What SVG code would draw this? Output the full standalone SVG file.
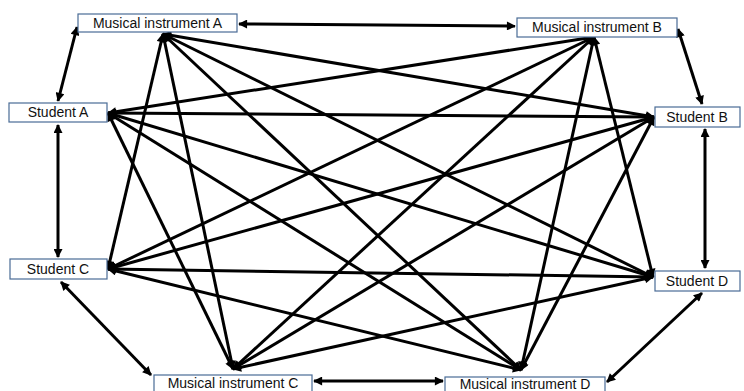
<svg xmlns="http://www.w3.org/2000/svg" width="744" height="391" viewBox="0 0 744 391">
<style>
.box{fill:#fff;stroke:#4a6c96;stroke-width:1.2}
.lbl{font-family:"Liberation Sans",Arial,sans-serif;font-size:14px;fill:#111;text-anchor:middle}
.e{stroke:#000;stroke-width:3;fill:none;marker-start:url(#ah);marker-end:url(#ah)}
</style>
<defs>
<marker id="ah" viewBox="0 0 10 10" refX="9" refY="5" markerWidth="11" markerHeight="9" markerUnits="userSpaceOnUse" orient="auto-start-reverse">
<path d="M0,0 L10,5 L0,10 z" fill="#000"/>
</marker>
</defs>
<rect width="744" height="391" fill="#fff"/>
<g id="connectors">
<line class="e" x1="239" y1="24" x2="515" y2="26"/>
<line class="e" x1="77" y1="27" x2="58" y2="101"/>
<line class="e" x1="58" y1="125" x2="58" y2="257"/>
<line class="e" x1="61" y1="282" x2="151" y2="375"/>
<line class="e" x1="314" y1="381" x2="443" y2="381"/>
<line class="e" x1="607" y1="382" x2="702" y2="293"/>
<line class="e" x1="705" y1="129" x2="705" y2="268"/>
<line class="e" x1="678" y1="29" x2="702" y2="104"/>
<line class="e" x1="163" y1="34" x2="654" y2="117"/>
<line class="e" x1="163" y1="34" x2="108" y2="269"/>
<line class="e" x1="163" y1="34" x2="653" y2="277"/>
<line class="e" x1="163" y1="34" x2="233" y2="369"/>
<line class="e" x1="163" y1="34" x2="521" y2="370"/>
<line class="e" x1="594" y1="37" x2="108" y2="113"/>
<line class="e" x1="594" y1="37" x2="108" y2="269"/>
<line class="e" x1="594" y1="37" x2="653" y2="277"/>
<line class="e" x1="594" y1="37" x2="233" y2="369"/>
<line class="e" x1="594" y1="37" x2="521" y2="370"/>
<line class="e" x1="108" y1="113" x2="654" y2="117"/>
<line class="e" x1="108" y1="113" x2="653" y2="277"/>
<line class="e" x1="108" y1="113" x2="233" y2="369"/>
<line class="e" x1="108" y1="113" x2="521" y2="370"/>
<line class="e" x1="654" y1="117" x2="108" y2="269"/>
<line class="e" x1="654" y1="117" x2="233" y2="369"/>
<line class="e" x1="654" y1="117" x2="521" y2="370"/>
<line class="e" x1="108" y1="269" x2="653" y2="277"/>
<line class="e" x1="108" y1="269" x2="521" y2="370"/>
<line class="e" x1="653" y1="277" x2="233" y2="369"/>
</g>
<g id="mia"><rect class="box" x="78" y="14" width="159" height="18"/><text class="lbl" x="157.5" y="28">Musical instrument A</text></g>
<g id="mib"><rect class="box" x="517" y="18" width="160" height="19"/><text class="lbl" x="597" y="32">Musical instrument B</text></g>
<g id="sa"><rect class="box" x="9" y="103" width="98" height="19"/><text class="lbl" x="58" y="117">Student A</text></g>
<g id="sb"><rect class="box" x="655" y="107" width="85" height="20"/><text class="lbl" x="697" y="122">Student B</text></g>
<g id="sc"><rect class="box" x="10" y="259" width="97" height="20"/><text class="lbl" x="58" y="274">Student C</text></g>
<g id="sd"><rect class="box" x="655" y="271" width="85" height="20"/><text class="lbl" x="697" y="286">Student D</text></g>
<g id="mic"><rect class="box" x="154" y="375" width="158" height="20"/><text class="lbl" x="233" y="388">Musical instrument C</text></g>
<g id="mid"><rect class="box" x="445" y="377" width="160" height="20"/><text class="lbl" x="525" y="389">Musical instrument D</text></g>
</svg>
